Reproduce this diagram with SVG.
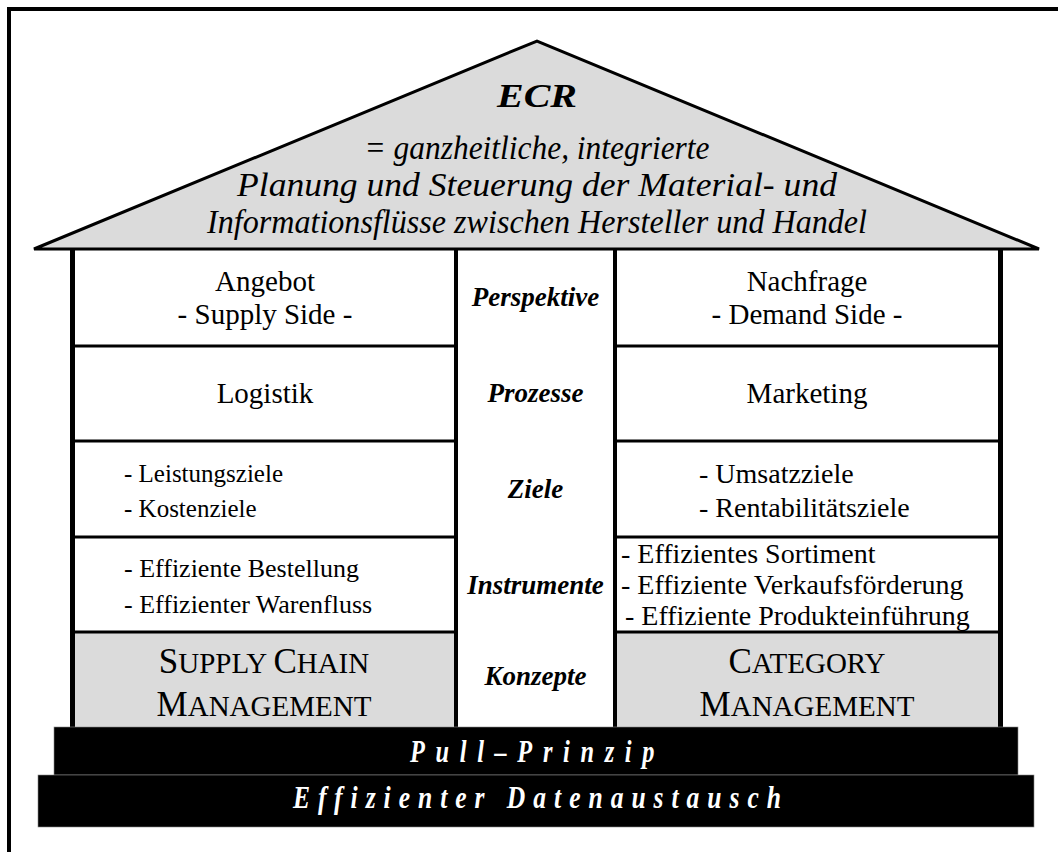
<svg xmlns="http://www.w3.org/2000/svg" width="1058" height="852" viewBox="0 0 1058 852">
<style>
text{font-family:"Liberation Serif","Times New Roman",serif;fill:#000}
.roof{font-style:italic;font-size:33px;text-anchor:middle}
.mid{font-style:italic;font-weight:bold;font-size:27px;text-anchor:middle}
.c{text-anchor:middle}
.base{font-style:italic;font-weight:bold;font-size:32px;fill:#fff}
.pil{stroke:#000;stroke-width:5}
.col{stroke:#000;stroke-width:4}
.row{stroke:#000;stroke-width:3}
.gray{fill:#dbdbdb}
</style>
<path d="M9,852 V9 H1058" fill="none" stroke="#000" stroke-width="4"/>
<g id="roof">
<polygon points="34,249 537,41 1039,249" fill="#dbdbdb" stroke="#000" stroke-width="3" stroke-linejoin="miter"/>
<text class="roof" x="537" y="107" font-weight="bold" font-size="44" textLength="80" lengthAdjust="spacingAndGlyphs">ECR</text>
<text class="roof" x="537" y="159" textLength="345" lengthAdjust="spacingAndGlyphs">= ganzheitliche, integrierte</text>
<text class="roof" x="537" y="196" font-size="34" textLength="600" lengthAdjust="spacingAndGlyphs">Planung und Steuerung der Material- und</text>
<text class="roof" x="537" y="233" textLength="660" lengthAdjust="spacingAndGlyphs">Informationsflüsse zwischen Hersteller und Handel</text>
</g>
<g id="left-column">
<rect class="gray" x="74" y="633" width="381" height="94"/>
<text class="c" x="265" y="291" font-size="29">Angebot</text>
<text class="c" x="265" y="324" font-size="29">- Supply Side -</text>
<text class="c" x="265" y="403" font-size="29">Logistik</text>
<text x="124" y="482" font-size="25">- Leistungsziele</text>
<text x="124" y="517" font-size="25">- Kostenziele</text>
<text x="124" y="577" font-size="26">- Effiziente Bestellung</text>
<text x="124" y="613" font-size="26">- Effizienter Warenfluss</text>
<text class="c" x="264" y="673" font-size="29"><tspan font-size="35">S</tspan>UPPLY <tspan font-size="35">C</tspan>HAIN</text>
<text class="c" x="264" y="716" font-size="29"><tspan font-size="35">M</tspan>ANAGEMENT</text>
</g>
<g id="middle-column">
<text class="mid" x="535.5" y="306">Perspektive</text>
<text class="mid" x="535.5" y="402">Prozesse</text>
<text class="mid" x="535.5" y="498">Ziele</text>
<text class="mid" x="535.5" y="594">Instrumente</text>
<text class="mid" x="535.5" y="685">Konzepte</text>
</g>
<g id="right-column">
<rect class="gray" x="617" y="633" width="382" height="94"/>
<text class="c" x="807" y="291" font-size="29">Nachfrage</text>
<text class="c" x="807" y="324" font-size="29">- Demand Side -</text>
<text class="c" x="807" y="403" font-size="29">Marketing</text>
<text x="699" y="483" font-size="28">- Umsatzziele</text>
<text x="699" y="517" font-size="28">- Rentabilitätsziele</text>
<text x="621" y="563" font-size="28">- Effizientes Sortiment</text>
<text x="621" y="594" font-size="28">- Effiziente Verkaufsförderung</text>
<text x="625" y="625" font-size="28">- Effiziente Produkteinführung</text>
<text class="c" x="807" y="673" font-size="29"><tspan font-size="35">C</tspan>ATEGORY</text>
<text class="c" x="807" y="716" font-size="29"><tspan font-size="35">M</tspan>ANAGEMENT</text>
</g>
<g id="connectors">
<line class="pil" x1="72.5" y1="249" x2="72.5" y2="727"/>
<line class="pil" x1="1000.5" y1="249" x2="1000.5" y2="727"/>
<line class="col" x1="456" y1="249" x2="456" y2="727"/>
<line class="col" x1="615" y1="249" x2="615" y2="727"/>
<line class="row" x1="72" y1="346" x2="456" y2="346"/>
<line class="row" x1="72" y1="441" x2="456" y2="441"/>
<line class="row" x1="72" y1="537" x2="456" y2="537"/>
<line class="row" x1="72" y1="632" x2="456" y2="632"/>
<line class="row" x1="615" y1="346" x2="1000" y2="346"/>
<line class="row" x1="615" y1="441" x2="1000" y2="441"/>
<line class="row" x1="615" y1="537" x2="1000" y2="537"/>
<line class="row" x1="615" y1="632" x2="1000" y2="632"/>
</g>
<g id="foundation">
<rect x="54" y="727" width="964" height="48" fill="#000" stroke="#888" stroke-width="0.6"/>
<rect x="38" y="775" width="996" height="52" fill="#000" stroke="#888" stroke-width="0.6"/>
<text class="base" x="410" y="762" textLength="255" lengthAdjust="spacingAndGlyphs" letter-spacing="14">Pull–Prinzip</text>
<text class="base" x="293" y="808" textLength="496" lengthAdjust="spacingAndGlyphs" letter-spacing="10">Effizienter Datenaustausch</text>
</g>
</svg>
